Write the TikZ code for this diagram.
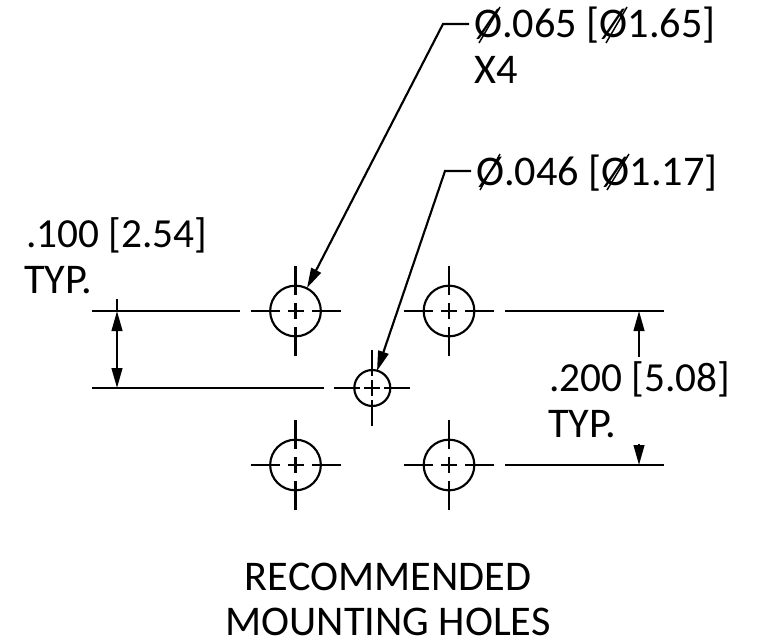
\documentclass[tikz,border=0pt]{standalone}
\usepackage{fontspec}
\setmainfont{Carlito}
\usetikzlibrary{arrows.meta}
\tikzset{
  lbl/.style={inner sep=0pt,anchor=base west,font=\fontsize{31.7}{32}\selectfont},
  lbls/.style={inner sep=0pt,anchor=base west,font=\fontsize{31}{32}\selectfont},
  lblc/.style={inner sep=0pt,anchor=base,font=\fontsize{31.7}{32}\selectfont},
  ln/.style={line width=1.6pt,black},
  hole/.style={circle,draw,line width=1.6pt,inner sep=0pt,minimum size=#1},
  slash/.style={line width=1.1pt,black},
  tip/.style={-{Triangle[length=15pt,width=8pt]}},
}
\begin{document}
\begin{tikzpicture}[x=0.75pt,y=-0.75pt]
\useasboundingbox (0,0) rectangle (762,642);
\node[hole=38pt] (h1) at (295.5,311) {};
\node[hole=38pt] (h2) at (449,311) {};
\node[hole=38pt] (h3) at (295.5,465) {};
\node[hole=38pt] (h4) at (449,465) {};
\node[hole=27pt] (h5) at (372.3,388) {};
\foreach \n in {h1,h2,h3,h4}{
  \begin{scope}[shift={(\n.center)}]
  \draw[ln] (-45,0)--(-16,0) (-8,0)--(8,0) (16,0)--(45,0) (0,-45)--(0,-16) (0,-8)--(0,8) (0,16)--(0,45);
  \end{scope}}
\begin{scope}[shift={(h5.center)}]
\draw[ln] (-38,0)--(-12,0) (-8,0)--(8,0) (12,0)--(38,0) (0,-38)--(0,-12) (0,-8)--(0,8) (0,12)--(0,38);
\end{scope}
% extension lines
\coordinate (e1a) at (92,311); \coordinate (e1b) at (240,311);
\coordinate (e2a) at (92,388); \coordinate (e2b) at (324,388);
\coordinate (e3a) at (505,311); \coordinate (e3b) at (664,311);
\coordinate (e4a) at (505,465); \coordinate (e4b) at (664,465);
\draw[ln] (e1a)--(e1b) (e2a)--(e2b) (e3a)--(e3b) (e4a)--(e4b);
% dims
\coordinate (d1) at (117,311); \coordinate (d2) at (117,388);
\draw[ln] (117,299)--(d1);
\draw[ln,{Triangle[length=15pt,width=8pt]}-{Triangle[length=15pt,width=8pt]}] (d1)--(d2);
\coordinate (d3) at (639,311); \coordinate (d3e) at (639,357);
\coordinate (d4) at (639,465); \coordinate (d4e) at (639,444);
\draw[ln,tip] (d3e)--(d3);
\draw[ln,tip] (d4e)--(d4);
% leaders
\coordinate (l1a) at (469,24); \coordinate (l1b) at (443,24); \coordinate (l1c) at (307,288);
\coordinate (l2a) at (471,171); \coordinate (l2b) at (445,171); \coordinate (l2c) at (377,371);
\draw[ln,tip] (l1a)--(l1b)--(l1c);
\draw[ln,tip] (l2a)--(l2b)--(l2c);
% text
\node[lbl] (t1) at (474,38) {Ø.065 [Ø1.65]};
\node[lbl] (t2) at (474,84) {X4};
\node[lbl] (t3) at (476,185) {Ø.046 [Ø1.17]};
\node[lbls] (t4) at (26,247) {.100 [2.54]};
\node[lbl] (t5) at (24,293) {TYP.};
\node[lbls] (t6) at (549,391) {.200 [5.08]};
\node[lbl] (t7) at (548,437) {TYP.};
\node[lblc] (t8) at (388,590) {RECOMMENDED};
\node[lblc] (t9) at (388,635) {MOUNTING HOLES};
% long strokes of the diameter signs
\draw[slash] (479,43)--(500,7) (606,43)--(627,7) (480,190)--(500,154) (607,190)--(629,154);
\end{tikzpicture}
\end{document}
